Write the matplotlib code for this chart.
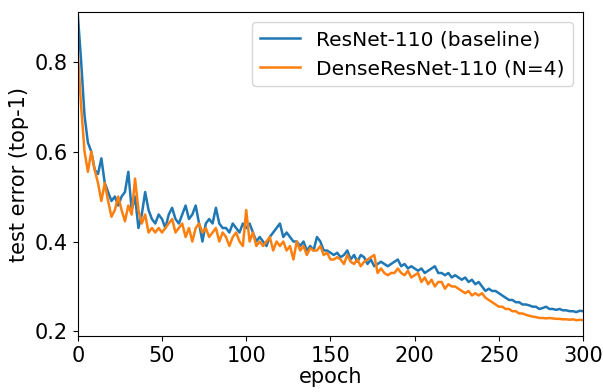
import numpy as np
from matplotlib import pyplot as plt

epochs = np.arange(0, 301, 2)

resnet = [0.905, 0.80, 0.68, 0.62, 0.60, 0.56, 0.55, 0.585, 0.53, 0.51,
          0.49, 0.50, 0.48, 0.50, 0.51, 0.555, 0.47, 0.50, 0.43, 0.46,
          0.51, 0.47, 0.45, 0.44, 0.46, 0.45, 0.43, 0.46, 0.475, 0.45,
          0.44, 0.46, 0.48, 0.45, 0.46, 0.48, 0.44, 0.40, 0.44, 0.45,
          0.44, 0.475, 0.44, 0.43, 0.43, 0.42, 0.44, 0.43, 0.42, 0.44,
          0.43, 0.44, 0.42, 0.40, 0.41, 0.40, 0.39, 0.41, 0.42, 0.43,
          0.44, 0.41, 0.42, 0.41, 0.40, 0.40, 0.39, 0.40, 0.38, 0.39,
          0.38, 0.41, 0.40, 0.38, 0.38, 0.375, 0.37, 0.375, 0.365, 0.37,
          0.38, 0.36, 0.37, 0.355, 0.37, 0.365, 0.35, 0.36, 0.345, 0.35,
          0.355, 0.35, 0.345, 0.35, 0.355, 0.36, 0.345, 0.35, 0.34, 0.345,
          0.34, 0.335, 0.34, 0.33, 0.335, 0.34, 0.345, 0.33, 0.33, 0.325,
          0.33, 0.32, 0.325, 0.32, 0.315, 0.32, 0.31, 0.315, 0.305, 0.31,
          0.30, 0.29, 0.295, 0.29, 0.29, 0.285, 0.28, 0.275, 0.27, 0.27,
          0.265, 0.265, 0.26, 0.26, 0.258, 0.255, 0.255, 0.25, 0.252, 0.255,
          0.25, 0.25, 0.248, 0.25, 0.247, 0.247, 0.245, 0.245, 0.243, 0.246,
          0.245]

denseresnet = [0.82, 0.70, 0.60, 0.555, 0.60, 0.56, 0.53, 0.49, 0.53, 0.49,
               0.455, 0.47, 0.50, 0.47, 0.445, 0.48, 0.46, 0.54, 0.47, 0.44,
               0.46, 0.42, 0.43, 0.42, 0.43, 0.42, 0.43, 0.44, 0.45, 0.42,
               0.43, 0.44, 0.41, 0.43, 0.40, 0.43, 0.44, 0.42, 0.43, 0.41,
               0.42, 0.43, 0.40, 0.42, 0.41, 0.39, 0.41, 0.42, 0.40, 0.39,
               0.47, 0.40, 0.42, 0.39, 0.40, 0.39, 0.40, 0.41, 0.38, 0.40,
               0.39, 0.40, 0.38, 0.39, 0.36, 0.40, 0.38, 0.39, 0.37, 0.385,
               0.38, 0.38, 0.39, 0.37, 0.375, 0.36, 0.36, 0.365, 0.36, 0.35,
               0.37, 0.355, 0.35, 0.36, 0.345, 0.355, 0.36, 0.365, 0.37, 0.33,
               0.34, 0.33, 0.325, 0.33, 0.33, 0.34, 0.33, 0.325, 0.335, 0.32,
               0.325, 0.33, 0.31, 0.32, 0.305, 0.315, 0.30, 0.31, 0.31, 0.295,
               0.305, 0.30, 0.30, 0.295, 0.29, 0.285, 0.29, 0.28, 0.285, 0.28,
               0.285, 0.275, 0.27, 0.265, 0.26, 0.255, 0.255, 0.25, 0.25, 0.245,
               0.245, 0.24, 0.24, 0.237, 0.235, 0.233, 0.232, 0.23, 0.23, 0.229,
               0.23, 0.229, 0.228, 0.228, 0.227, 0.227, 0.226, 0.227, 0.225, 0.226,
               0.225]

fig = plt.figure(figsize=(6.03, 3.92), dpi=100)
ax = fig.add_axes([0.129, 0.143, 0.838, 0.826])
ax.plot(epochs, resnet, color='#1f77b4', lw=1.8, label='ResNet-110 (baseline)')
ax.plot(epochs, denseresnet, color='#ff7f0e', lw=1.8, label='DenseResNet-110 (N=4)')
ax.set_xlim(0, 300)
ax.set_ylim(0.19, 0.91)
ax.set_yticks([0.2, 0.4, 0.6, 0.8])
ax.tick_params(labelsize=15)
ax.set_xlabel('epoch', fontsize=15, labelpad=1)
ax.set_ylabel('test error (top-1)', fontsize=15)
ax.legend(loc='upper right', fontsize=14.5)
fig.savefig('out.png', dpi=100)
